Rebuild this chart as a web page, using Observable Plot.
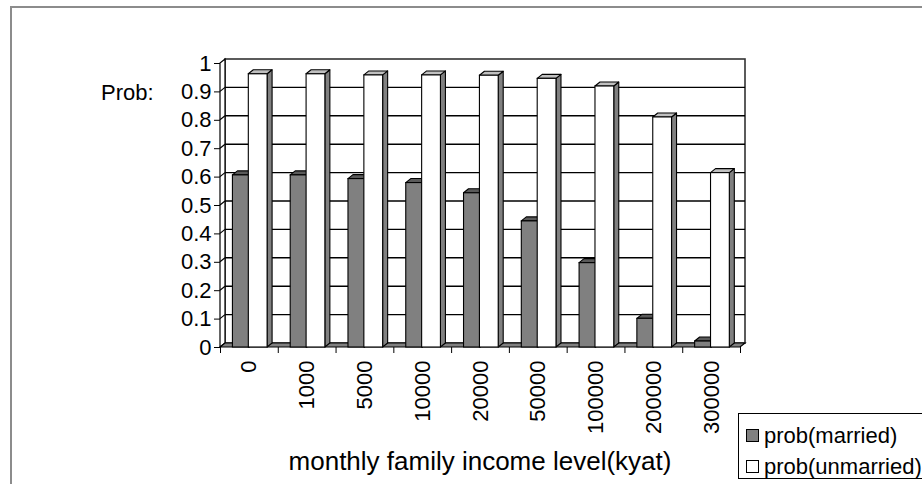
<!DOCTYPE html>
<html><head><meta charset="utf-8">
<script src="https://cdn.jsdelivr.net/npm/d3@7"></script>
<script src="https://cdn.jsdelivr.net/npm/@observablehq/plot@0.6"></script>
<style>
html,body{margin:0;padding:0;background:#fff;}
#wrap{position:relative;width:922px;height:484px;overflow:hidden;font-family:"Liberation Sans",Arial,sans-serif;color:#000;}
#chart{position:absolute;left:0;top:0;}
#border{position:absolute;left:10px;top:6px;width:1000px;height:1000px;border:2px solid #8c8c8c;box-sizing:border-box;}
#ylab{position:absolute;left:101px;top:82px;font-size:22px;line-height:22px;white-space:nowrap;}
#xtitle{position:absolute;left:280px;width:400px;top:448px;font-size:26px;line-height:26px;text-align:center;white-space:nowrap;}
#legend{position:absolute;left:738px;top:413px;width:220px;height:66px;border:1px solid #000;box-sizing:border-box;background:#fff;}
.item{position:absolute;left:7px;font-size:22px;line-height:22px;white-space:nowrap;}
.sw{display:inline-block;width:11px;height:11px;border:1px solid #000;margin-right:5px;vertical-align:1px;}
</style></head>
<body>
<div id="wrap">
  <div id="chart"></div>
  <div id="border"></div>
  <div id="ylab"></div>
  <div id="xtitle"></div>
  <div id="legend"></div>
</div>
<script>
// ---- data ----
const categories = ["0","1000","5000","10000","20000","50000","100000","200000","300000"];
const married    = [0.606,0.606,0.593,0.579,0.543,0.444,0.297,0.101,0.021];
const unmarried  = [0.962,0.962,0.958,0.958,0.957,0.946,0.919,0.810,0.614];
const seriesNames = ["prob(married)","prob(unmarried)"];
const yTicks = [0,0.1,0.2,0.3,0.4,0.5,0.6,0.7,0.8,0.9,1];
const xTitle = "monthly family income level(kyat)";
const yTitle = "Prob:";

// ---- styling ----
const DX = 5, DY = -4;
const slots = {"prob(married)": [0.215, 0.50], "prob(unmarried)": [0.49, 0.815]};
const faces = {
  "prob(married)":   {front:"#808080", top:"#5a5a5a", side:"#404040"},
  "prob(unmarried)": {front:"#ffffff", top:"#c0c0c0", side:"#808080"}
};

const rows = [];
categories.forEach((c, i) => {
  [married, unmarried].forEach((arr, s) => {
    const name = seriesNames[s];
    rows.push({i, cat: c, series: name, value: arr[i], x1: i + slots[name][0], x2: i + slots[name][1]});
  });
});
const n = categories.length;

function walls(index, scales) {
  const x = scales.x, y = scales.y;
  const g = d3.create("svg:g").attr("stroke", "#000");
  const x0 = x(0), x9 = x(n), y0 = y(0), y1 = y(1);
  g.append("rect").attr("x", x0 + DX).attr("y", y1 + DY).attr("width", x9 - x0).attr("height", y0 - y1)
    .attr("fill", "#fff").attr("stroke", "#333").attr("stroke-width", 1.6);
  g.append("polygon").attr("points", `${x0},${y0} ${x0},${y1} ${x0+DX},${y1+DY} ${x0+DX},${y0+DY}`)
    .attr("fill", "#fff").attr("stroke-width", 1.2);
  for (const t of yTicks) {
    if (t <= 0 || t >= 1) continue;
    const yt = y(t);
    g.append("line").attr("x1", x0 + DX).attr("x2", x9 + DX).attr("y1", yt + DY).attr("y2", yt + DY).attr("stroke-width", 1.4);
    g.append("line").attr("x1", x0).attr("x2", x0 + DX).attr("y1", yt).attr("y2", yt + DY).attr("stroke-width", 1.2);
  }
  g.append("polygon").attr("points", `${x0},${y0} ${x9},${y0} ${x9+DX},${y0+DY} ${x0+DX},${y0+DY}`)
    .attr("fill", "#808080").attr("stroke-width", 1.2);
  return g.node();
}

function depth(index, scales) {
  const x = scales.x, y = scales.y;
  const g = d3.create("svg:g").attr("stroke", "#000").attr("stroke-width", 1.1).attr("stroke-linejoin", "round");
  for (const r of rows) {
    const a = x(r.x1), b = x(r.x2), y0 = y(0), yv = y(r.value), f = faces[r.series];
    g.append("polygon").attr("points", `${b},${yv} ${b+DX},${yv+DY} ${b+DX},${y0+DY} ${b},${y0}`).attr("fill", f.side);
    g.append("polygon").attr("points", `${a},${yv} ${a+DX},${yv+DY} ${b+DX},${yv+DY} ${b},${yv}`).attr("fill", f.top);
  }
  return g.node();
}

const chart = Plot.plot({
  width: 922, height: 484,
  marginLeft: 220, marginRight: 182, marginTop: 63, marginBottom: 137,
  style: {fontFamily: "'Liberation Sans', Arial, sans-serif", background: "transparent", color: "#000"},
  x: {type: "linear", domain: [0, n], label: null},
  y: {domain: [0, 1], label: null},
  marks: [
    walls,
    depth,
    Plot.rect(rows, {x1: "x1", x2: "x2", y1: 0, y2: "value", fill: d => faces[d.series].front, stroke: "#000", strokeWidth: 1.1}),
    Plot.axisY({ticks: yTicks, tickFormat: d => String(Math.round(d * 10) / 10), tickSize: 6, tickPadding: 3, fontSize: 22, label: null}),
    Plot.axisX({ticks: d3.range(n + 1), tickSize: 6, tickFormat: () => "", label: null}),
    Plot.axisX({ticks: categories.map((c, i) => i + 0.5), tickFormat: d => categories[Math.floor(d)], tickRotate: -90, tickSize: 0, tickPadding: 13, fontSize: 22, label: null})
  ]
});
document.getElementById("chart").appendChild(chart);
document.getElementById("ylab").textContent = yTitle;
document.getElementById("xtitle").textContent = xTitle;
const leg = document.getElementById("legend");
seriesNames.forEach((s, k) => {
  const it = document.createElement("div");
  it.className = "item";
  it.style.top = (k === 0 ? 11 : 42) + "px";
  const sw = document.createElement("span");
  sw.className = "sw";
  sw.style.background = faces[s].front;
  it.appendChild(sw);
  it.appendChild(document.createTextNode(s));
  leg.appendChild(it);
});
</script>
</body></html>
